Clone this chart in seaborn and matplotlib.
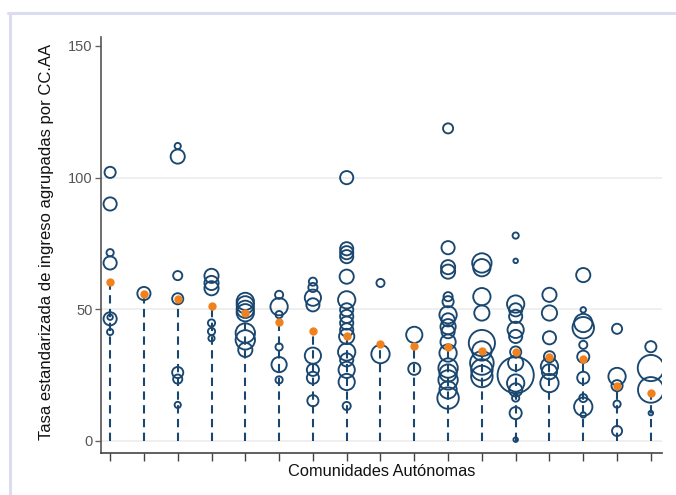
import numpy as np
import pandas as pd
import matplotlib
matplotlib.use("Agg")
import matplotlib.pyplot as plt
import seaborn as sns
from matplotlib.lines import Line2D

NAVY = "#1a476f"
NARANJA = "#f0821e"

# tasas de cada hospital, agrupadas por comunidad (1..17)
tasas = [
    [102, 90, 71.5, 67.6, 46.4, 47, 41.4],
    [56],
    [112, 108, 62.8, 54, 26, 23.5, 13.7],
    [62.7, 60, 58, 44.8, 41.6, 39],
    [53, 51.7, 50, 48.7, 41, 38.4, 34.6],
    [55.5, 51, 48, 35.7, 29, 23.2],
    [60.5, 58.3, 54.4, 51.7, 32.4, 27, 24, 15.3],
    [100, 73, 71.5, 70, 62.4, 53.6, 49.8, 47.3, 44.8, 42.2, 39.7, 33.8, 30.8, 27, 22.4, 13.3],
    [60, 33],
    [40.3, 27.4],
    [118.7, 73.4, 66, 64.3, 54.8, 52.9, 47.9, 46, 43.4, 41.5, 37.6, 33.4, 27.7, 25.8, 23.2, 19.4, 16.3],
    [67.6, 65.8, 54.8, 48.6, 37.2, 34.2, 29.6, 27, 24.5],
    [78, 68.4, 52, 49.8, 47.3, 42.2, 39.7, 33.8, 29.6, 25, 22, 19.4, 16.3, 10.6, 0.5],
    [55.5, 48.6, 39.2, 32, 28.3, 26.3, 22],
    [63, 49.8, 44.8, 43, 36.5, 32, 24, 16.3, 13, 9.9],
    [42.6, 24.5, 21, 14, 3.8],
    [35.8, 27.7, 19.4, 10.6],
]

# peso de cada hospital (tamaño del marcador)
pesos = [
    [25, 36, 9, 36, 36, 4, 6],
    [36],
    [6, 42, 16, 25, 25, 16, 6],
    [42, 42, 42, 9, 9, 6],
    [64, 64, 64, 64, 81, 81, 42],
    [12, 64, 9, 9, 49, 9],
    [12, 16, 56, 36, 56, 30, 30, 25],
    [36, 36, 36, 36, 42, 64, 36, 36, 36, 36, 49, 64, 36, 56, 56, 12],
    [12, 72],
    [56, 30],
    [20, 36, 42, 42, 16, 25, 64, 36, 49, 36, 49, 64, 81, 64, 81, 64, 100],
    [81, 64, 64, 49, 150, 81, 121, 100, 100],
    [6, 2, 64, 36, 36, 56, 36, 25, 49, 289, 64, 36, 9, 30, 2],
    [42, 49, 36, 25, 64, 49, 72],
    [42, 4, 72, 100, 12, 30, 30, 12, 72, 4],
    [20, 64, 25, 9, 20],
    [25, 150, 144, 2],
]

# tasa media por comunidad
medias = [60.4, 56, 54, 51.3, 48.7, 45.3, 41.8, 39.7, 36.9, 36, 35.8, 34.2, 33.8, 32, 31.2, 21, 18.2]

comunidades = np.arange(1, len(medias) + 1)

df = pd.DataFrame({
    "comunidad": np.repeat(comunidades, [len(t) for t in tasas]),
    "tasa": np.concatenate(tasas),
    "peso": np.concatenate(pesos),
})
df_media = pd.DataFrame({"comunidad": comunidades, "media": medias})

sns.set_style("white")
plt.rcParams["font.family"] = ["Liberation Sans", "DejaVu Sans"]

fig = plt.figure(figsize=(6.76, 4.95), dpi=100)
ax = fig.add_axes([101 / 676, 1 - 453 / 495, 561 / 676, 416 / 495])

for v in [0, 50, 100]:
    ax.axhline(v, color="#ececec", lw=1.2, zorder=0)

ax.vlines(df_media["comunidad"], 0, df_media["media"], colors=NAVY,
          linestyles=(0, (4, 2.6)), linewidth=1.5, zorder=1)

pmin, pmax = df["peso"].min(), df["peso"].max()
k = 2.35
sns.scatterplot(data=df, x="comunidad", y="tasa", size="peso",
                sizes=(k * pmin + 6, k * pmax), size_norm=(pmin, pmax),
                facecolors="none", edgecolor=NAVY, linewidth=1.35,
                legend=False, ax=ax, zorder=2)

sns.scatterplot(data=df_media, x="comunidad", y="media", color=NARANJA,
                s=36, linewidth=0, ax=ax, zorder=3)

ax.set_xlim(0.73, 17.33)
ax.set_ylim(-4.56, 153.4)
ax.set_xticks(comunidades)
ax.set_xticklabels([])
ax.set_yticks([0, 50, 100, 150])
ax.tick_params(axis="y", direction="out", length=4, width=1, color="#666666",
               labelcolor="#555555", labelsize=10.5, pad=2, left=True)
ax.tick_params(axis="x", direction="out", length=6, width=1, color="#444444",
               bottom=True, pad=0)

for s in ["top", "right"]:
    ax.spines[s].set_visible(False)
ax.spines["left"].set_color("#555555")
ax.spines["bottom"].set_color("#444444")
ax.spines["left"].set_linewidth(1.2)
ax.spines["bottom"].set_linewidth(1.2)

ax.set_xlabel("Comunidades Autónomas", fontsize=11.8, color="#111111", labelpad=2)
ax.set_ylabel("Tasa estandarizada de ingreso agrupadas por CC.AA", fontsize=12,
              color="#111111")
ax.yaxis.set_label_coords(-0.083, 0.507)

# marco de la captura
fig.add_artist(Line2D([8 / 676, 1], [1 - 13 / 495, 1 - 13 / 495],
                      color="#dcdcf0", lw=2.2))
fig.add_artist(Line2D([9.5 / 676, 9.5 / 676], [0, 1 - 13 / 495],
                      color="#dcdcf0", lw=2.2))

fig.savefig("out.png", dpi=100)
plt.close(fig)
